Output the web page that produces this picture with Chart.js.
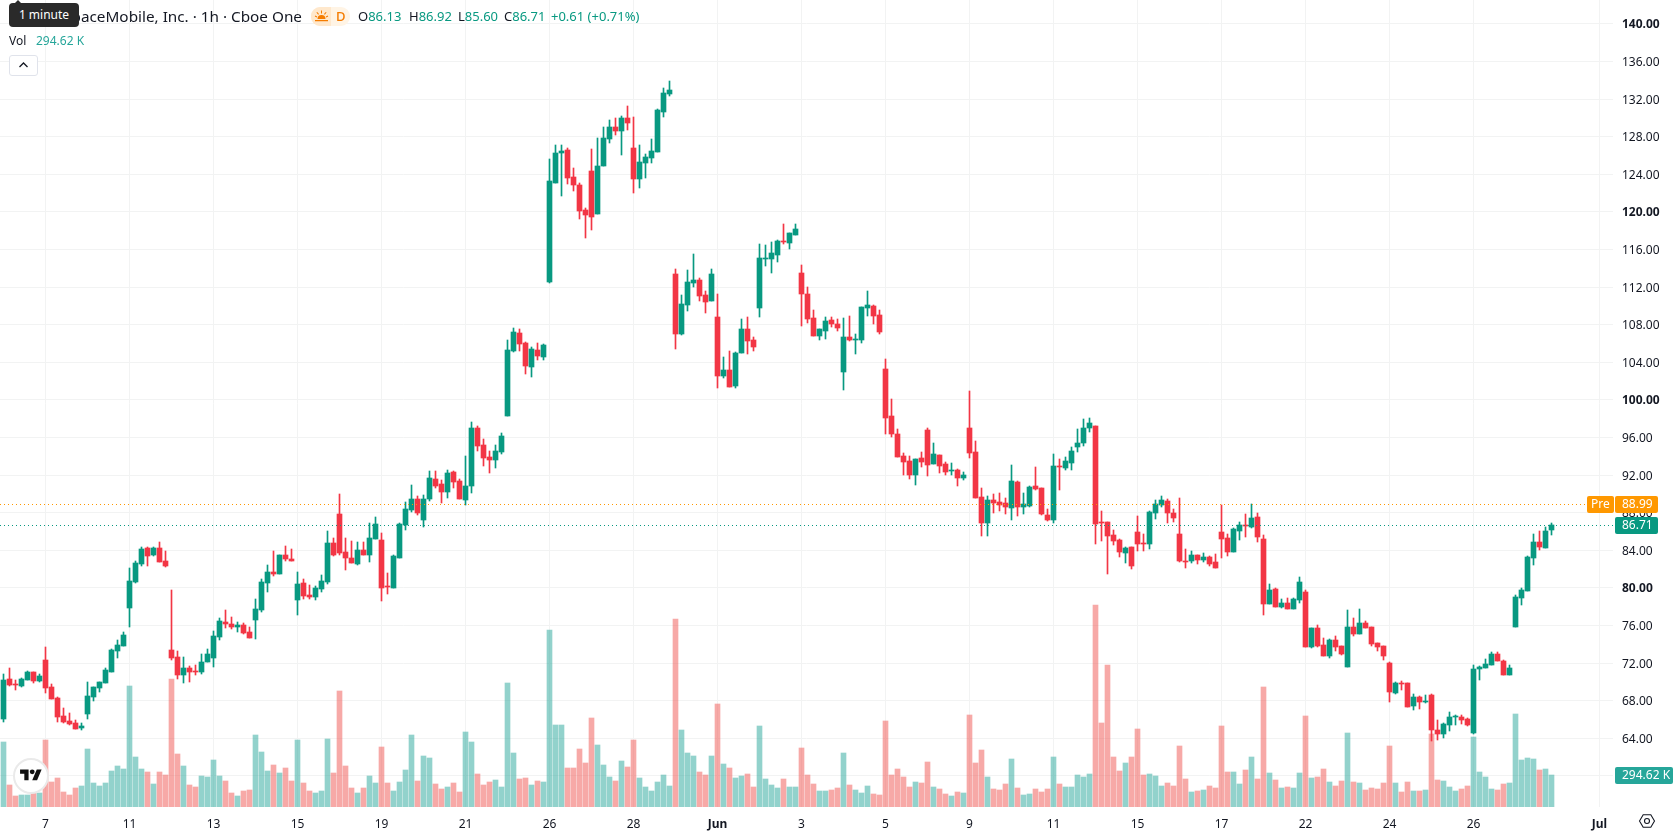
<!DOCTYPE html>
<html>
<head>
<meta charset="utf-8">
<title>ASTS 1h</title>
<script src="https://cdn.jsdelivr.net/npm/chart.js@4"></script>
<style>
  html, body { margin: 0; background: #fff; }
  #wrap { position: relative; width: 1678px; height: 835px; overflow: hidden; font-family: "Noto Sans", sans-serif; color: #131722; }
  #priceChart { position: absolute; left: 0; top: 0; }
  .lg { position: absolute; white-space: nowrap; line-height: 18px; font-size: 13px; }
  .up { color: #089981; }
  #title { right: calc(1678px - 302px); top: 7px; font-size: 15.3px; }
  #hint { position: absolute; left: 9px; top: 3px; width: 70px; height: 24px; line-height: 24px; text-align: center; background: #2a2a2a; color: #fff; font-size: 12px; border-radius: 4px; }
  #hint:before { content: ""; position: absolute; left: 5px; top: -3px; border: 4px solid transparent; border-top: 0; border-bottom: 4px solid #2a2a2a; }
  #chip { position: absolute; left: 311px; top: 7px; width: 39px; height: 19px; border-radius: 9px; overflow: hidden; background: #fff4e5; }
  #chip i { position: absolute; left: 0; top: 0; width: 20px; height: 19px; background: #ffe8cc; }
  #chip svg { position: absolute; left: 3px; top: 2px; }
  #chip b { position: absolute; left: 25px; top: 0; font-weight: 500; font-size: 13px; line-height: 19px; color: #f57c00; }
  #collapse { position: absolute; left: 9px; top: 55px; width: 27px; height: 19px; border: 1px solid #e0e3eb; border-radius: 3px; background: #fff; }
  #collapse svg { position: absolute; left: 8px; top: 5px; }
  #logo { position: absolute; left: 13px; top: 758px; width: 32px; height: 32px; border: 2px solid #eaeaea; border-radius: 50%; background: #fff; }
  #logo svg { position: absolute; left: 4.5px; top: 7px; }
  #gear { position: absolute; left: 1638px; top: 812px; }
</style>
</head>
<body>
<div id="wrap">
  <canvas id="priceChart" width="1678" height="835"></canvas>
  <div class="lg" id="title">AST SpaceMobile, Inc. · 1h · Cboe One</div>
  <div id="hint">1 minute</div>
  <div id="chip"><i></i>
    <svg width="15" height="15" viewBox="0 0 15 15" fill="#f57c00"><path d="M3.5 10a4 4 0 0 1 8 0zM1 11h13v1.2H1zM7 1.5h1v3H7zM2.4 3.6l.8-.7 1.8 2.2-.8.7zM12.6 3.6l-.8-.7L10 5.100l.8.7zM.8 7.500l.4-.9 2 .9-.4.9zM14.200 7.500l-.4-.9-2 .9.4.9z"/></svg>
    <b>D</b></div>
  <div class="lg" style="left:358px;top:7px">O<span class="up">86.13</span></div>
  <div class="lg" style="left:409px;top:7px">H<span class="up">86.92</span></div>
  <div class="lg" style="left:458px;top:7px">L<span class="up">85.60</span></div>
  <div class="lg" style="left:504px;top:7px">C<span class="up">86.71</span></div>
  <div class="lg up" style="left:551px;top:7px">+0.61 (+0.71%)</div>
  <div class="lg" style="left:9px;top:32px;font-size:12px">Vol</div>
  <div class="lg" style="left:36px;top:32px;font-size:12px;color:#26a69a">294.62 K</div>
  <div id="collapse"><svg width="11" height="8" viewBox="0 0 11 8" fill="none" stroke="#131722" stroke-width="1.300"><path d="M1.500 6 5.500 2l4 4"/></svg></div>
  <div id="logo"><svg width="22" height="17" viewBox="0 0 36 28" fill="#111"><path d="M14 22H7V11H0V4h14v18zM28 22h-8l7.500-18h8L28 22z"/><circle cx="20" cy="8" r="4"/></svg></div>
  <svg id="gear" width="18" height="18" viewBox="0 0 18 18" fill="none" stroke="#131722" stroke-width="1.100"><path d="M1.500 9 5.200 2.800h7.600L16.500 9l-3.700 6.200H5.200z"/><circle cx="9" cy="9" r="2.500"/></svg>
</div>

<script>
// hourly bars, oldest first
const opens = [
  66.05,70.31,69.77,69.56,70.20,71.05,70.09,72.33,69.45,68.28,
  66.37,65.84,65.62,65.09,66.58,68.39,69.35,69.88,71.05,73.28,
  73.82,77.86,80.62,82.54,84.24,83.50,84.24,82.86,73.39,72.65,
  70.73,71.48,71.16,71.05,72.11,72.54,74.77,76.37,76.16,75.84,
  76.05,75.30,76.58,77.65,80.52,81.69,81.48,83.50,83.07,78.71,
  80.52,79.24,79.03,79.88,80.62,84.77,87.86,83.82,83.18,82.54,
  84.03,83.50,85.20,85.09,80.20,79.99,83.18,86.69,88.29,89.46,
  87.23,89.46,91.59,91.06,90.20,92.33,91.38,89.36,90.84,97.01,
  95.21,93.93,93.61,94.46,98.29,105.21,107.12,106.06,103.50,105.31,
  104.57,112.55,123.08,126.27,126.59,123.72,122.87,120.21,124.36,119.78,
  124.89,127.76,129.04,128.61,129.99,126.80,123.50,125.20,125.74,126.38,
  130.63,132.55,113.40,107.01,110.10,112.44,112.76,111.16,110.53,108.82,
  102.55,103.19,101.48,105.00,107.55,106.38,109.78,115.00,115.00,115.42,
  116.91,116.70,117.55,113.50,111.27,108.72,106.80,107.33,108.50,108.08,
  102.97,106.69,106.37,106.37,109.78,109.99,109.03,103.29,98.29,96.37,
  94.03,93.50,92.01,93.82,96.80,93.18,94.14,93.18,92.43,92.54,
  91.69,97.01,94.46,89.67,86.90,89.35,89.14,89.03,88.50,91.27,
  88.61,88.71,90.84,90.63,87.76,87.22,92.97,92.76,93.29,94.99,
  95.41,97.01,97.22,87.01,87.01,85.63,85.09,83.71,84.35,85.95,
  84.77,84.67,87.97,88.82,89.24,87.97,85.73,82.86,82.86,83.50,
  82.97,83.29,82.75,85.95,85.31,83.82,86.05,86.69,86.48,87.54,
  85.20,78.29,79.88,77.97,78.40,77.76,78.71,79.57,73.71,75.73,
  73.93,72.76,74.46,73.82,71.59,75.84,75.09,76.27,75.84,74.14,
  73.82,72.01,68.82,69.88,69.88,67.44,68.39,67.86,68.61,64.88,
  64.46,65.42,66.27,66.27,66.05,64.57,71.37,71.48,71.80,72.97,
  72.22,70.73,75.84,78.93,79.67,83.18,84.88,84.25,86.13
];
const closes = [
  70.20,69.67,69.67,70.31,71.05,70.09,70.62,69.35,68.18,66.26,
  65.73,65.52,64.99,65.30,68.50,69.45,69.98,71.26,73.39,73.92,
  74.99,80.73,82.65,84.13,83.39,84.24,82.75,82.33,72.54,70.73,
  71.48,71.05,71.05,72.11,72.96,74.88,76.47,76.16,75.84,76.05,
  75.20,74.67,77.75,80.62,81.69,81.48,83.50,83.07,82.86,80.41,
  79.13,79.03,79.99,80.73,84.77,83.50,83.71,83.18,82.65,84.03,
  83.50,85.31,86.80,79.99,80.09,83.39,86.80,88.40,89.46,87.97,
  89.46,91.70,90.84,90.20,92.23,91.27,89.46,90.84,97.01,95.10,
  93.82,93.61,94.57,96.16,105.31,107.23,105.95,103.61,105.42,104.67,
  105.84,123.29,126.27,126.48,123.61,122.87,120.10,119.67,119.46,124.89,
  127.87,129.04,128.61,129.99,129.46,123.50,125.31,125.84,126.48,130.84,
  132.65,132.97,107.01,110.21,112.55,112.76,111.06,110.42,113.40,102.55,
  103.19,101.38,105.00,107.55,106.27,105.63,115.10,115.10,115.63,116.91,
  116.80,117.76,118.19,111.27,108.61,106.80,107.55,108.40,108.08,107.65,
  106.69,106.37,106.48,109.88,110.10,108.92,107.22,98.07,96.37,93.93,
  93.39,92.01,93.71,93.39,93.07,94.24,92.97,92.33,92.54,91.69,
  92.01,94.35,89.56,86.90,89.35,89.03,88.82,88.61,91.37,88.61,
  88.92,90.73,90.52,87.86,87.22,92.97,92.86,93.50,94.56,95.41,
  97.01,97.54,86.80,86.90,85.52,84.99,83.82,84.24,82.33,84.67,
  84.67,88.07,88.92,89.35,87.97,87.44,82.86,82.75,83.50,82.97,
  83.29,82.54,82.12,85.20,83.82,86.27,86.69,86.58,87.44,85.41,
  78.29,79.78,77.97,78.40,77.76,78.82,80.63,73.71,75.73,73.82,
  72.76,74.46,73.71,72.97,75.84,75.09,76.27,75.73,74.03,73.71,
  72.76,68.93,69.88,69.78,67.33,68.39,67.86,67.97,64.88,64.46,
  65.52,66.27,66.37,65.95,65.42,71.37,71.59,71.91,72.97,72.22,
  70.73,71.48,79.03,79.78,83.29,84.88,84.35,86.06,86.71
];
const highs = [
  70.84,71.48,70.20,70.41,71.16,71.05,70.84,73.71,69.77,68.39,
  67.22,66.69,65.94,65.62,69.98,69.45,69.98,71.48,73.50,74.45,
  75.30,82.11,82.86,84.35,84.35,84.35,84.88,83.92,79.77,73.28,
  72.65,71.69,71.79,72.96,73.50,75.41,76.79,77.65,76.90,76.37,
  76.26,75.84,78.82,80.94,82.43,83.92,83.50,84.45,84.13,81.69,
  80.94,80.31,80.20,81.37,86.05,85.30,89.99,85.30,84.99,84.88,
  84.88,86.91,87.54,85.84,81.58,83.50,86.91,89.14,90.95,89.78,
  89.88,92.44,92.44,91.48,92.54,92.44,91.59,94.04,97.65,97.23,
  95.84,94.57,95.21,96.48,106.38,107.65,107.55,106.16,105.63,106.06,
  105.95,125.63,127.12,127.12,126.80,124.67,123.08,120.42,126.70,127.87,
  129.04,129.78,129.99,130.21,131.27,130.10,127.12,126.16,127.76,130.95,
  133.19,133.93,113.93,111.16,113.82,115.53,112.97,111.59,113.93,111.27,
  104.57,105.21,105.10,108.61,108.82,106.69,116.59,116.48,116.80,117.01,
  118.72,117.76,118.72,114.36,112.00,109.57,107.55,108.82,108.82,108.61,
  108.71,108.92,107.01,109.88,111.58,110.10,109.56,104.35,100.09,96.90,
  94.35,94.03,93.71,94.46,97.01,95.41,94.14,93.39,93.29,92.65,
  92.33,100.95,95.63,90.63,89.78,89.99,90.10,89.56,93.07,91.37,
  90.10,90.84,92.86,90.63,88.39,94.24,93.71,93.92,94.99,96.90,
  97.97,98.07,97.22,88.18,87.01,86.16,85.20,84.35,84.35,87.65,
  85.73,88.18,89.35,89.78,89.46,88.39,89.56,84.14,83.92,83.50,
  83.71,83.39,83.61,88.82,85.73,86.37,87.01,87.86,88.92,87.97,
  85.63,80.42,79.99,78.82,78.93,78.93,81.16,79.78,75.73,76.05,
  74.67,74.57,74.88,73.82,77.65,76.80,77.76,76.48,75.84,74.14,
  73.82,72.12,69.99,70.10,69.88,68.71,68.50,68.61,68.71,65.95,
  65.63,66.80,66.48,66.48,66.16,71.80,71.69,72.44,73.18,73.18,
  72.33,71.80,79.25,79.99,83.40,85.74,86.05,86.48,86.92
];
const lows = [
  65.77,69.56,69.13,69.45,70.20,69.88,69.98,68.82,68.18,65.73,
  65.62,65.41,64.99,64.88,66.05,67.96,68.92,69.88,71.05,72.54,
  73.82,75.84,80.52,82.33,82.33,83.39,82.75,82.22,72.33,70.31,
  69.88,69.98,70.73,70.84,72.11,71.58,74.45,75.73,75.62,75.30,
  75.09,74.67,74.56,77.43,79.56,81.26,81.48,82.86,82.86,77.11,
  78.82,78.82,78.71,79.56,80.41,83.39,83.50,81.90,82.65,82.43,
  83.50,82.76,85.20,78.60,79.35,79.99,83.18,86.16,88.08,87.76,
  86.48,89.25,90.63,89.03,89.57,90.63,89.46,88.82,90.10,94.57,
  92.97,92.23,92.76,94.25,98.29,105.10,105.21,102.76,102.44,104.25,
  104.25,112.44,123.08,121.70,122.97,122.23,119.25,117.23,118.08,119.78,
  124.89,127.33,128.19,126.06,128.72,122.01,122.55,123.61,125.20,126.38,
  130.10,132.33,105.42,106.91,109.46,112.01,110.53,109.25,110.53,101.27,
  102.33,101.38,101.27,105.00,104.89,105.21,108.82,114.25,113.50,114.67,
  116.59,116.06,117.55,107.87,108.19,106.80,106.38,106.48,107.76,107.33,
  101.05,106.27,104.88,106.05,108.92,108.07,107.01,96.37,96.05,93.93,
  92.01,91.58,90.95,92.86,91.90,93.18,92.22,92.01,92.01,90.84,
  91.48,93.82,89.56,85.52,85.52,87.97,88.18,87.86,87.22,87.65,
  87.86,88.61,90.41,87.76,87.12,86.90,90.41,92.54,92.54,94.46,
  95.10,96.58,84.67,84.99,81.48,84.56,83.29,82.65,82.01,83.92,
  83.92,84.14,87.33,88.61,86.90,87.01,82.75,82.12,82.65,82.54,
  82.75,82.33,82.12,83.18,83.39,83.82,85.09,85.41,86.37,84.88,
  77.12,78.29,77.97,77.86,77.76,77.76,78.40,73.71,73.61,73.71,
  72.76,72.55,73.29,72.86,71.59,74.88,75.09,75.73,73.82,73.29,
  72.33,67.86,68.71,69.14,67.33,67.01,67.12,67.76,63.71,63.82,
  64.03,64.78,65.42,65.52,65.31,64.46,70.20,71.48,71.80,72.22,
  70.73,70.73,75.84,78.18,79.67,82.44,84.03,84.25,85.60
];
// volume per bar, in thousands
const volumes = [
  601,202,99,108,108,127,127,620,229,267,
  136,108,174,192,536,220,192,220,332,378,
  350,1122,462,350,322,211,322,295,1187,490,
  378,202,183,285,276,434,285,239,127,99,
  146,155,667,508,332,388,313,360,239,620,
  220,146,127,146,629,313,1076,378,174,127,
  174,285,220,555,220,146,229,341,667,239,
  471,453,211,164,183,220,136,694,601,304,
  202,229,248,183,1150,499,257,267,202,239,
  229,1643,760,760,360,360,536,406,825,574,
  388,276,239,425,369,620,267,183,146,229,
  295,192,1745,713,499,471,322,295,471,955,
  397,360,267,285,304,183,750,257,202,174,
  257,183,183,546,295,211,146,146,155,174,
  499,202,155,127,192,118,108,797,295,350,
  276,183,229,220,415,183,164,118,99,136,
  127,853,406,527,276,164,155,211,443,174,
  108,118,164,136,164,462,211,183,183,295,
  276,304,1876,778,1318,462,332,406,462,722,
  295,304,285,192,220,192,564,257,136,146,
  155,192,174,750,322,322,211,341,462,257,
  1113,313,248,174,183,174,313,843,267,276,
  350,229,192,239,685,229,220,155,174,164,
  220,564,220,136,229,146,146,155,676,248,
  239,183,146,164,192,648,322,276,164,155,
  211,220,862,434,453,443,341,350,294.62
];
const priceTicks = [60,64,68,72,76,80,84,88,92,96,100,104,108,112,116,120,124,128,132,136,140];
const timeTickBars = [7,21,35,49,63,77,91,105,119,133,147,161,175,189,203,217,231,245,266];
const timeTickLabels = ["7","11","13","15","19","21","26","28","Jun","3","5","9","11","15","17","22","24","26","Jul"];
const preMarketPrice = 88.99;
const lastPrice = 86.71;
const lastVolume = 294.62;

const UP = "#089981";
const DOWN = "#f23645";
const GRID = "#f2f3f3";
const FONT = '"Noto Sans", sans-serif';

const barColor = (i) => (closes[i] >= opens[i] ? UP : DOWN);
const volColor = (i) => (closes[i] >= opens[i] ? "rgba(38,166,154,0.5)" : "rgba(239,83,80,0.5)");
const bars = opens.map((_, i) => i);
const XMIN = -3.5 / 6;
const XMAX = (1613 - 3.5) / 6;

function roundBox(ctx, x, y, w, h, color) {
  ctx.fillStyle = color;
  ctx.beginPath();
  ctx.roundRect(x, y, w, h, 2);
  ctx.fill();
}

// snap bar edges to whole pixels, thin bodies keep one visible row
const crispBars = {
  id: "crispBars",
  afterDatasetsUpdate(chart) {
    chart.getSortedVisibleDatasetMetas().forEach((meta) => {
      meta.data.forEach((el) => {
        el.y = Math.round(el.y);
        el.base = Math.round(el.base);
        if (el.base === el.y) el.base = el.y + 1;
        el.height = el.base - el.y;
      });
    });
  },
};

// dotted price lines
const priceLines = {
  id: "priceLines",
  afterDatasetsDraw(chart) {
    const { ctx, scales, chartArea } = chart;
    ctx.save();
    ctx.lineWidth = 1;
    ctx.setLineDash([1, 3]);
    [[preMarketPrice, "#ff9800"], [lastPrice, UP]].forEach(([price, color]) => {
      const y = Math.ceil(scales.y.getPixelForValue(price)) + 0.5;
      ctx.strokeStyle = color;
      ctx.beginPath();
      ctx.moveTo(chartArea.left, y);
      ctx.lineTo(chartArea.right, y);
      ctx.stroke();
    });
    ctx.restore();
  },
};

// value tags on the price axis, placed from the scales
const axisTags = {
  id: "axisTags",
  afterDraw(chart) {
    const { ctx, scales } = chart;
    const y1 = Math.ceil(scales.y.getPixelForValue(preMarketPrice));
    const y2 = Math.ceil(scales.y.getPixelForValue(lastPrice));
    const y3 = Math.floor(scales.vol.getPixelForValue(lastVolume));
    ctx.save();
    ctx.font = "12px " + FONT;
    ctx.textBaseline = "middle";
    ctx.textAlign = "left";
    roundBox(ctx, 1587, y1 - 8, 27, 17, "#ff9800");
    roundBox(ctx, 1615, y1 - 8, 43, 17, "#ff9800");
    roundBox(ctx, 1615, y2 - 8, 43, 17, UP);
    roundBox(ctx, 1615, y3 - 8, 58, 17, "#26a69a");
    ctx.fillStyle = "#fff";
    ctx.fillText("Pre", 1591, y1 + 1);
    ctx.fillText(String(preMarketPrice), 1622, y1 + 1);
    ctx.fillText(String(lastPrice), 1622, y2 + 1);
    ctx.fillText(lastVolume + " K", 1622, y3 + 1);
    ctx.restore();
  },
};

// scales keep the full canvas: labels may sit close to the edges
const noScalePadding = (s) => {
  s.paddingTop = s.paddingBottom = s.paddingLeft = s.paddingRight = 0;
};

new Chart(document.getElementById("priceChart"), {
  data: {
    datasets: [
      {
        type: "bar",
        order: 4,
        yAxisID: "vol",
        grouped: false,
        barThickness: 5,
        data: bars.map((i) => ({ x: i, y: volumes[i] })),
        backgroundColor: bars.map(volColor),
      },
      {
        type: "bar",
        order: 3,
        grouped: false,
        barThickness: 1,
        data: bars.map((i) => ({ x: i, y: [lows[i], highs[i]] })),
        backgroundColor: bars.map(barColor),
      },
      {
        type: "bar",
        order: 2,
        grouped: false,
        barThickness: 5,
        data: bars.map((i) => ({ x: i, y: [opens[i], closes[i]] })),
        backgroundColor: bars.map(barColor),
      },
    ],
  },
  options: {
    responsive: false,
    animation: false,
    events: [],
    layout: { padding: 0, autoPadding: false },
    plugins: { legend: { display: false }, tooltip: { enabled: false } },
    scales: {
      x: {
        type: "linear",
        offset: false,
        min: XMIN,
        max: XMAX,
        afterBuildTicks: (s) => { s.ticks = timeTickBars.map((value) => ({ value })); },
        afterFit: (s) => { s.height = 28; noScalePadding(s); },
        border: { display: false },
        grid: { color: GRID, drawTicks: false, offset: false },
        ticks: {
          autoSkip: false,
          maxRotation: 0,
          padding: 10,
          color: "#131722",
          font: (c) => ({ family: FONT, size: 12, weight: c.tick && /[A-Z]/.test(c.tick.label) ? "bold" : "normal" }),
          callback: (v) => timeTickLabels[timeTickBars.indexOf(v)],
        },
      },
      y: {
        position: "right",
        bounds: "data",
        min: 84 - (807 - 550.3) / 9.4,
        max: 84 + 550.3 / 9.4,
        afterBuildTicks: (s) => { s.ticks = priceTicks.map((value) => ({ value })); },
        afterFit: (s) => { s.width = 65; noScalePadding(s); },
        border: { display: false },
        grid: { color: GRID, drawTicks: false },
        ticks: {
          autoSkip: false,
          padding: 9,
          labelOffset: 1,
          color: "#131722",
          font: (c) => ({ family: FONT, size: 12, weight: c.tick && c.tick.value % 20 === 0 ? "bold" : "normal" }),
          callback: (v) => v.toFixed(2),
        },
      },
      vol: { display: false, bounds: "data", min: 0, max: 807 * 9.3, afterFit: noScalePadding },
    },
  },
  plugins: [crispBars, priceLines, axisTags],
});
</script>
</body>
</html>
